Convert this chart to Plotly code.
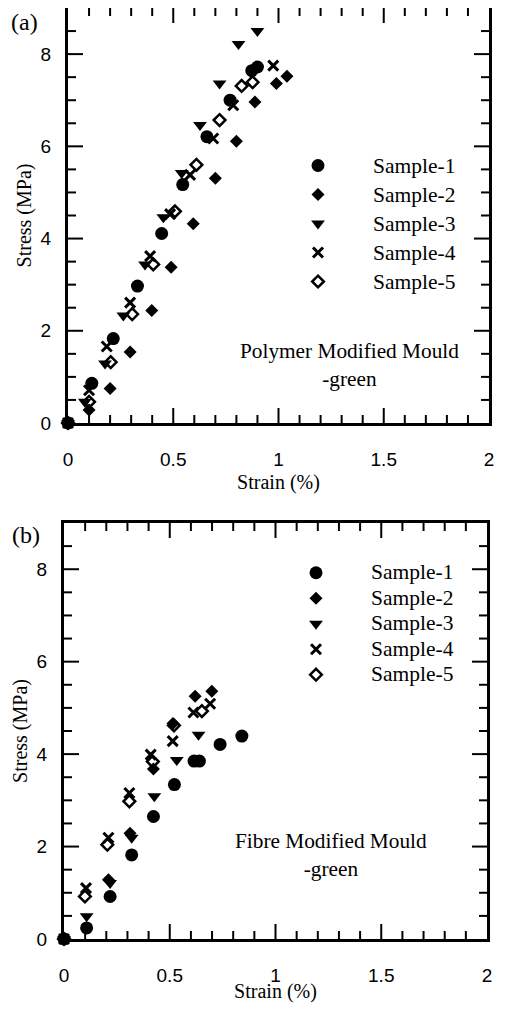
import plotly.graph_objects as go

# ---- panel (a): Polymer Modified Mould - green ----
a1_strain = [0, 0.113, 0.215, 0.33, 0.445, 0.545, 0.66, 0.77, 0.873, 0.90]
a1_stress = [0, 0.86, 1.83, 2.97, 4.11, 5.17, 6.21, 7.00, 7.64, 7.72]
a2_strain = [0, 0.10, 0.20, 0.295, 0.398, 0.49, 0.595, 0.70, 0.80, 0.888, 0.99, 1.04]
a2_stress = [0, 0.28, 0.75, 1.54, 2.44, 3.38, 4.32, 5.31, 6.11, 6.96, 7.36, 7.52]
a3_strain = [0, 0.08, 0.176, 0.263, 0.366, 0.453, 0.54, 0.627, 0.72, 0.81, 0.90]
a3_stress = [0, 0.46, 1.29, 2.33, 3.44, 4.46, 5.42, 6.46, 7.36, 8.22, 8.50]
a4_strain = [0, 0.10, 0.184, 0.295, 0.39, 0.485, 0.58, 0.69, 0.785, 0.975]
a4_stress = [0, 0.71, 1.66, 2.61, 3.62, 4.53, 5.38, 6.17, 6.89, 7.75]
a5_strain = [0, 0.10, 0.203, 0.305, 0.405, 0.508, 0.61, 0.72, 0.825, 0.877]
a5_stress = [0, 0.46, 1.32, 2.36, 3.44, 4.59, 5.60, 6.57, 7.31, 7.39]

# ---- panel (b): Fibre Modified Mould - green ----
b1_strain = [0, 0.107, 0.218, 0.32, 0.423, 0.522, 0.615, 0.64, 0.738, 0.841]
b1_stress = [0, 0.24, 0.92, 1.82, 2.65, 3.34, 3.85, 3.85, 4.21, 4.39]
b2_strain = [0, 0.21, 0.312, 0.423, 0.515, 0.62, 0.699]
b2_stress = [0, 1.28, 2.29, 3.68, 4.66, 5.25, 5.36]
b3_strain = [0, 0.107, 0.218, 0.32, 0.427, 0.533, 0.636]
b3_stress = [0, 0.49, 1.21, 2.19, 3.09, 3.87, 4.42]
b4_strain = [0, 0.104, 0.21, 0.309, 0.41, 0.514, 0.612, 0.691]
b4_stress = [0, 1.10, 2.19, 3.16, 3.99, 4.28, 4.90, 5.09]
b5_strain = [0, 0.099, 0.205, 0.309, 0.42, 0.52, 0.652]
b5_stress = [0, 0.92, 2.04, 2.98, 3.84, 4.62, 4.93]

names = ["Sample-1", "Sample-2", "Sample-3", "Sample-4", "Sample-5"]

# tick positions (major / minor)
x_major = [0.5, 1, 1.5]
x_minor = [round(0.1 * i, 1) for i in range(1, 20) if i % 5]
y_major = [2, 4, 6, 8]
y_minor = [0.5 * i for i in range(1, 18) if i % 4]

# marker styles per sample
styles = [
    dict(symbol="circle", size=13, color="black"),
    dict(symbol="diamond", size=10, color="black"),
    dict(symbol="triangle-down", size=12, color="black"),
    dict(symbol="x-thin", size=10, color="black", line=dict(width=3, color="black")),
    dict(symbol="diamond-open", size=9, color="black", line=dict(width=2.5, color="black")),
]

serif = "Liberation Serif, Times New Roman, serif"
sans = "Liberation Sans, Arial, sans-serif"

# page body has an 8px margin, so the figure is drawn 8px smaller on each side
OFF = 8
W, H = 505 - 2 * OFF, 1011 - 2 * OFF

def px(x):
    return min(1, max(0, (x - OFF) / W))

def py(y):
    return min(1, max(0, 1 - (y - OFF) / H))

fig = go.Figure()

panel_a = [(a1_strain, a1_stress), (a2_strain, a2_stress), (a3_strain, a3_stress),
           (a4_strain, a4_stress), (a5_strain, a5_stress)]
panel_b = [(b1_strain, b1_stress), (b2_strain, b2_stress), (b3_strain, b3_stress),
           (b4_strain, b4_stress), (b5_strain, b5_stress)]

for i, (xs, ys) in enumerate(panel_a):
    fig.add_trace(go.Scatter(x=xs, y=ys, mode="markers",
                             name='<span style="font-size:21.5px">' + names[i] + '</span>',
                             marker=styles[i], xaxis="x", yaxis="y",
                             legend="legend", cliponaxis=False))
for i, (xs, ys) in enumerate(panel_b):
    fig.add_trace(go.Scatter(x=xs, y=ys, mode="markers",
                             name='<span style="font-size:21.5px">' + names[i] + '</span>',
                             marker=styles[i], xaxis="x2", yaxis="y2",
                             legend="legend2", cliponaxis=False))

# inside ticks on all four sides, placed through the axes' own scales
tick_line = dict(color="black", width=2)
shapes = []
for xr, yr in [("x", "y"), ("x2", "y2")]:
    for vals, ln in [(x_major, 15), (x_minor, 8)]:
        for v in vals:
            shapes.append(dict(type="line", xref=xr, yref=yr, x0=v, x1=v,
                               ysizemode="pixel", yanchor=0, y0=0, y1=ln, line=tick_line))
            shapes.append(dict(type="line", xref=xr, yref=yr, x0=v, x1=v,
                               ysizemode="pixel", yanchor=9, y0=0, y1=-ln, line=tick_line))
    for vals, ln in [(y_major, 15), (y_minor, 8)]:
        for v in vals:
            shapes.append(dict(type="line", xref=xr, yref=yr, y0=v, y1=v,
                               xsizemode="pixel", xanchor=0, x0=0, x1=ln, line=tick_line))
            shapes.append(dict(type="line", xref=xr, yref=yr, y0=v, y1=v,
                               xsizemode="pixel", xanchor=2, x0=0, x1=-ln, line=tick_line))

tfont = dict(family=sans, size=19, color="black")
ttl = dict(family=serif, size=20, color="black")
base = dict(showline=True, linewidth=3, linecolor="black", mirror=True, showgrid=False,
            zeroline=False, automargin=False, tickfont=tfont, ticks="")

fig.update_layout(
    width=W, height=H,
    margin=dict(l=0, r=0, t=0, b=0, autoexpand=False),
    paper_bgcolor="white", plot_bgcolor="white",
    showlegend=True,
    xaxis=dict(domain=[px(68), px(489)], anchor="y", range=[0, 2], dtick=0.5,
               ticklabelstandoff=17,
               title=dict(text="Strain (%)", font=ttl, standoff=7), **base),
    yaxis=dict(domain=[py(423), py(7)], anchor="x", range=[0, 9], dtick=2,
               ticklabelstandoff=10,
               title=dict(text="Stress (MPa)", font=ttl, standoff=4), **base),
    xaxis2=dict(domain=[px(64), px(487)], anchor="y2", range=[0, 2], dtick=0.5,
                ticklabelstandoff=17,
                title=dict(text="Strain (%)", font=ttl, standoff=7), **base),
    yaxis2=dict(domain=[py(939), py(523)], anchor="x2", range=[0, 9], dtick=2,
                ticklabelstandoff=10,
                title=dict(text="Stress (MPa)", font=ttl, standoff=4), **base),
    shapes=shapes,
    legend=dict(x=px(263), y=py(146), xanchor="left", yanchor="top",
                bgcolor="rgba(0,0,0,0)", itemwidth=100,
                font=dict(family=serif, size=20, color="black")),
    legend2=dict(x=px(261), y=py(555), xanchor="left", yanchor="top",
                 bgcolor="rgba(0,0,0,0)", itemwidth=100,
                 font=dict(family=serif, size=17.3, color="black")),
    annotations=[
        dict(text="(a)", x=px(24), y=py(22), xref="paper", yref="paper",
             xanchor="center", yanchor="middle",
             showarrow=False, font=dict(family=serif, size=24, color="black")),
        dict(text="(b)", x=px(26), y=py(535), xref="paper", yref="paper",
             xanchor="center", yanchor="middle",
             showarrow=False, font=dict(family=serif, size=24, color="black")),
        dict(text="Polymer Modified Mould<br>-green", x=px(349), y=py(365),
             xref="paper", yref="paper", xanchor="center", yanchor="middle",
             showarrow=False, font=dict(family=serif, size=21.3, color="black")),
        dict(text="Fibre Modified Mould<br>-green", x=px(331), y=py(855),
             xref="paper", yref="paper", xanchor="center", yanchor="middle",
             showarrow=False, font=dict(family=serif, size=21.3, color="black")),
    ],
)

fig.write_html("out.html")
